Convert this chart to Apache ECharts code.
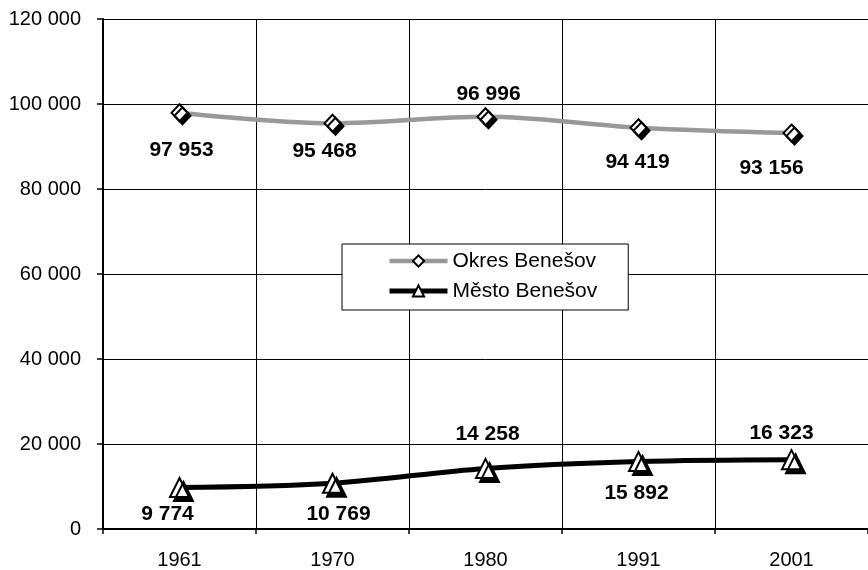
<!DOCTYPE html>
<html>
<head>
<meta charset="utf-8">
<script src="https://cdn.jsdelivr.net/npm/echarts@6/dist/echarts.min.js"></script>
<style>
html,body{margin:0;padding:0;background:#fff;}
#chart{width:868px;height:570px;}
</style>
</head>
<body>
<div id="chart"></div>
<script>
var years = ['1961', '1970', '1980', '1991', '2001'];
var okresValues = [97953, 95468, 96996, 94419, 93156];
var mestoValues = [9774, 10769, 14258, 15892, 16323];
var seriesNames = ['Okres Benešov', 'Město Benešov'];
var yTicks = [0, 20000, 40000, 60000, 80000, 100000, 120000];

// label placement (layout, px offsets from the point)
var okresLabelOffsets = [[2, 38], [-8, 28], [3, -23], [-1, 34], [-20, 35]];
var mestoLabelOffsets = [[-12, 27], [6, 31], [2, -34], [-2, 32], [-10, -26]];

function fmt(v) {
  return String(v).replace(/\B(?=(\d{3})+(?!\d))/g, ' ');
}

var FONT = '"Liberation Sans", Arial, sans-serif';

function buildData(values, offsets) {
  return values.map(function (v, i) {
    return {
      value: v,
      label: { offset: offsets[i] }
    };
  });
}

var labelStyle = {
  show: true,
  position: 'inside',
  formatter: function (p) { return fmt(p.value); },
  fontFamily: FONT,
  fontWeight: 'bold',
  fontSize: 21,
  color: '#000'
};

var chart = echarts.init(document.getElementById('chart'), null, { renderer: 'canvas' });
chart.setOption({
  animation: false,
  backgroundColor: '#fff',
  grid: { left: 103, top: 19, bottom: 41, right: -11.5, containLabel: false },
  legend: {
    orient: 'vertical',
    left: 342,
    top: 244,
    data: [
      { name: seriesNames[0], lineStyle: { width: 4.5 } },
      { name: seriesNames[1], lineStyle: { width: 5 } }
    ],
    backgroundColor: '#fff',
    borderColor: '#000',
    borderWidth: 1,
    padding: [6, 31, 8, 45],
    itemWidth: 58,
    itemHeight: 14,
    itemGap: 8,
    itemStyle: { shadowColor: 'rgba(0,0,0,0)', shadowOffsetX: 0, shadowOffsetY: 0, shadowBlur: 0 },
    textStyle: { fontFamily: FONT, fontSize: 21, color: '#000', lineHeight: 22 }
  },
  xAxis: {
    type: 'category',
    data: years,
    boundaryGap: true,
    axisLine: { show: true, lineStyle: { color: '#000', width: 2 } },
    axisTick: { show: true, interval: 0, length: 5, lineStyle: { color: '#000', width: 1.5 } },
    axisLabel: { interval: 0, margin: 21, fontFamily: FONT, fontSize: 20, color: '#000' },
    splitLine: { show: true, interval: 0, lineStyle: { color: '#000', width: 1 } }
  },
  yAxis: {
    type: 'value',
    min: yTicks[0],
    max: yTicks[yTicks.length - 1],
    interval: yTicks[1] - yTicks[0],
    axisLine: { show: true, lineStyle: { color: '#000', width: 2 } },
    axisTick: { show: true, length: 6, lineStyle: { color: '#000', width: 1.5 } },
    axisLabel: { margin: 22, fontFamily: FONT, fontSize: 20, color: '#000', formatter: function (v) { return fmt(v); } },
    splitLine: { show: true, lineStyle: { color: '#000', width: 1 } }
  },
  series: [
    {
      name: seriesNames[0],
      type: 'line',
      smooth: 0.35,
      data: buildData(okresValues, okresLabelOffsets),
      symbol: 'diamond',
      symbolSize: [16, 17],
      lineStyle: { color: '#999999', width: 4.5 },
      itemStyle: { color: '#fff', borderColor: '#000', borderWidth: 2, shadowColor: '#000', shadowOffsetX: 3, shadowOffsetY: 3, shadowBlur: 0 },
      label: labelStyle,
      z: 3
    },
    {
      name: seriesNames[1],
      type: 'line',
      smooth: 0.35,
      data: buildData(mestoValues, mestoLabelOffsets),
      symbol: 'triangle',
      symbolSize: [19, 19],
      lineStyle: { color: '#000', width: 5 },
      itemStyle: { color: '#fff', borderColor: '#000', borderWidth: 2, shadowColor: '#000', shadowOffsetX: 4, shadowOffsetY: 4, shadowBlur: 0 },
      label: labelStyle,
      z: 3
    }
  ]
});
</script>
</body>
</html>
